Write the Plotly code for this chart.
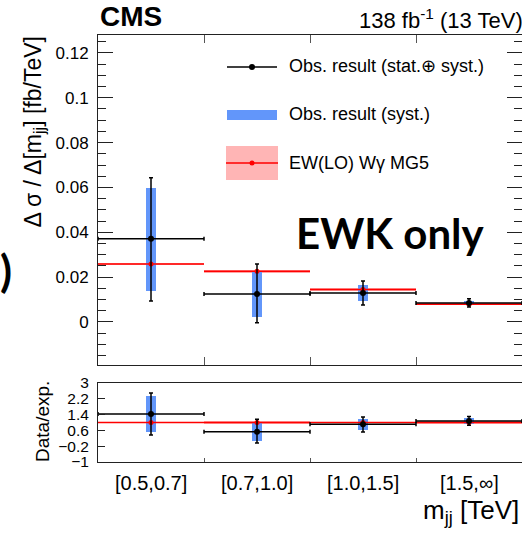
import plotly.graph_objects as go

# ---------------- data ----------------
bins = ["[0.5,0.7]", "[0.7,1.0]", "[1.0,1.5]", "[1.5,∞]"]
edges = [0, 1, 2, 3, 4]

obs = [0.0371, 0.0125, 0.0129, 0.0085]
obs_err_up = [0.0272, 0.0134, 0.0054, 0.0018]
obs_err_dn = [0.0277, 0.0129, 0.0053, 0.0018]
syst_hi = [0.0598, 0.0228, 0.0167, 0.0094]
syst_lo = [0.0138, 0.0022, 0.0092, 0.0076]

pred = [0.0259, 0.0226, 0.0145, 0.0079]
pred_err = [0.0003, 0.0007, 0.0006, 0.0005]

ratio = [1.43, 0.53, 0.91, 1.07]
ratio_err_up = [1.06, 0.64, 0.37, 0.24]
ratio_err_dn = [1.06, 0.57, 0.39, 0.21]
ratio_syst_hi = [2.34, 1.02, 1.17, 1.22]
ratio_syst_lo = [0.52, 0.07, 0.62, 0.92]
ratio_pred = [1.0, 1.0, 1.0, 1.0]
ratio_pred_err = [0.02, 0.06, 0.05, 0.10]

main_yticks = [0, 0.02, 0.04, 0.06, 0.08, 0.1, 0.12]
ratio_yticks = [-1, -0.2, 0.6, 1.4, 2.2, 3]

# ---------------- layout helpers ----------------
W, H = 522, 538
L, R, T, B = 98, 0, 35, 76
PW, PH = W - L - R, H - T - B


def px(x):
    return (x - L) / PW


def py(y):
    return (H - B - y) / PH


centers = [(edges[i] + edges[i + 1]) / 2 for i in range(len(bins))]
half = [(edges[i + 1] - edges[i]) / 2 for i in range(len(bins))]

BLUE = "rgb(98,150,250)"
RED = "rgb(255,0,0)"
BAND = "rgba(255,90,90,0.55)"
AX = "#222"
FONT = "Liberation Sans, Arial, sans-serif"

fig = go.Figure()


def add_panel(xa, ya, val, eu, ed, shi, slo, pv, pe):
    # prediction band
    fig.add_trace(go.Bar(x=centers, base=[p - e for p, e in zip(pv, pe)],
                         y=[2 * e for e in pe], width=[2 * h for h in half],
                         marker=dict(color=BAND, line=dict(width=0)),
                         xaxis=xa, yaxis=ya, showlegend=False, hoverinfo="skip"))
    # prediction lines
    lx, ly = [], []
    for i in range(len(bins)):
        lx += [edges[i], edges[i + 1], None]
        ly += [pv[i], pv[i], None]
    fig.add_trace(go.Scatter(x=lx, y=ly, mode="lines", line=dict(color=RED, width=1.5),
                             xaxis=xa, yaxis=ya, showlegend=False))
    fig.add_trace(go.Scatter(x=centers, y=pv, mode="markers",
                             marker=dict(color=RED, size=5),
                             xaxis=xa, yaxis=ya, showlegend=False))
    # systematic bars
    fig.add_trace(go.Bar(x=centers, base=slo, y=[h - l for h, l in zip(shi, slo)],
                         width=0.095, marker=dict(color=BLUE, line=dict(width=0)),
                         xaxis=xa, yaxis=ya, showlegend=False))
    # observed
    fig.add_trace(go.Scatter(x=centers, y=val, mode="markers",
                             marker=dict(color="black", size=6),
                             error_x=dict(type="data", array=half, symmetric=True,
                                          color="black", thickness=1.5, width=2),
                             error_y=dict(type="data", array=eu, arrayminus=ed,
                                          symmetric=False, color="black", thickness=1.5, width=2),
                             xaxis=xa, yaxis=ya, showlegend=False))


add_panel("x", "y", obs, obs_err_up, obs_err_dn, syst_hi, syst_lo, pred, pred_err)
add_panel("x2", "y2", ratio, ratio_err_up, ratio_err_dn, ratio_syst_hi, ratio_syst_lo,
          ratio_pred, ratio_pred_err)

main_bottom = py(365)
ratio_top = py(383)

fig.update_layout(
    width=W, height=H, margin=dict(l=L, r=R, t=T, b=B, autoexpand=False),
    paper_bgcolor="white", plot_bgcolor="white", barmode="overlay", bargap=0,
    font=dict(family=FONT, color="black", size=14),
    showlegend=False,
    xaxis=dict(domain=[0, 1], range=[edges[0], edges[-1]], anchor="y",
               tickmode="array", tickvals=edges[1:-1], ticks="inside", ticklen=8,
               tickcolor="#555", showticklabels=False, showgrid=False, zeroline=False,
               showline=True, linecolor=AX, linewidth=1, mirror="ticks"),
    yaxis=dict(domain=[main_bottom, 1], range=[-0.0192, 0.128], anchor="x",
               tickmode="array", tickvals=main_yticks,
               ticktext=[f"{v:g}" for v in main_yticks],
               ticks="inside", ticklen=15, tickcolor=AX,
               minor=dict(dtick=0.005, ticks="inside", ticklen=8, tickcolor=AX, showgrid=False),
               tickfont=dict(size=17), ticklabelstandoff=5,
               showgrid=False, zeroline=False,
               showline=True, linecolor=AX, linewidth=1, mirror="ticks"),
    xaxis2=dict(domain=[0, 1], range=[edges[0], edges[-1]], anchor="y2", matches="x",
                tickmode="array", tickvals=edges[1:-1], ticks="inside", ticklen=4,
                tickcolor="#555", showticklabels=False, showgrid=False, zeroline=False,
                showline=True, linecolor=AX, linewidth=1, mirror=True),
    yaxis2=dict(domain=[0, ratio_top], range=[-1, 3], anchor="x2",
                tickmode="array", tickvals=ratio_yticks,
                ticktext=[f"{v:g}".replace("-", "\u2212") for v in ratio_yticks],
                ticks="inside", ticklen=7, tickcolor=AX,
                tickfont=dict(size=15.5), ticklabelstandoff=5,
                showgrid=False, zeroline=False,
                showline=True, linecolor=AX, linewidth=1, mirror=True),
)

ann = []
# bin labels
for c, lab in zip(centers, bins):
    ann.append(dict(x=c, xref="x2", y=py(483), yref="paper", text=lab, showarrow=False,
                    font=dict(size=20), xanchor="center", yanchor="middle"))
ann += [
    dict(x=px(521), y=py(512), xref="paper", yref="paper", text="m<sub>jj</sub> [TeV]",
         showarrow=False, font=dict(size=26), xanchor="right", yanchor="middle"),
    dict(x=px(98), y=py(17), xref="paper", yref="paper", text="<b>CMS</b>",
         showarrow=False, font=dict(size=28), xanchor="left", yanchor="middle"),
    dict(x=px(525), y=py(19), xref="paper", yref="paper",
         text="138 fb<sup>-1</sup> (13 TeV)", showarrow=False, font=dict(size=22),
         xanchor="right", yanchor="middle"),
    dict(x=px(34), y=py(35), xref="paper", yref="paper",
         text="Δ σ / Δ[m<sub>jj</sub>] [fb/TeV]", textangle=-90, showarrow=False,
         font=dict(size=23), xanchor="center", yanchor="top"),
    dict(x=px(42), y=py(422), xref="paper", yref="paper", text="Data/exp.",
         textangle=-90, showarrow=False, font=dict(size=19),
         xanchor="center", yanchor="middle"),
    dict(x=px(294), y=py(233), xref="paper", yref="paper", text="<b>EWK only</b>",
         showarrow=False, font=dict(family="Lato, sans-serif", size=42),
         xanchor="left", yanchor="middle"),
    dict(x=px(14), y=py(270), xref="paper", yref="paper", text="<b>)</b>",
         showarrow=False, font=dict(family="Lato, sans-serif", size=44),
         xanchor="right", yanchor="middle"),
    dict(x=px(287), y=py(66), xref="paper", yref="paper",
         text="Obs. result (stat.⊕ syst.)", showarrow=False, font=dict(size=18),
         xanchor="left", yanchor="middle"),
    dict(x=px(287), y=py(114), xref="paper", yref="paper",
         text="Obs. result (syst.)", showarrow=False, font=dict(size=18),
         xanchor="left", yanchor="middle"),
    dict(x=px(287), y=py(163), xref="paper", yref="paper",
         text="EW(LO) Wγ MG5", showarrow=False, font=dict(size=18),
         xanchor="left", yanchor="middle"),
]
fig.update_layout(annotations=ann)

# legend samples (decorative, paper coordinates)
shapes = [
    dict(type="line", xref="paper", yref="paper", x0=px(227), x1=px(277),
         y0=py(67), y1=py(67), line=dict(color="black", width=1.5)),
    dict(type="circle", xref="paper", yref="paper", x0=px(249), x1=px(255),
         y0=py(70), y1=py(64), fillcolor="black", line=dict(width=0)),
    dict(type="rect", xref="paper", yref="paper", x0=px(227), x1=px(277),
         y0=py(120), y1=py(110), fillcolor=BLUE, line=dict(width=0)),
    dict(type="rect", xref="paper", yref="paper", x0=px(226), x1=px(278),
         y0=py(180), y1=py(146), fillcolor="rgba(255,150,150,0.7)", line=dict(width=0)),
    dict(type="line", xref="paper", yref="paper", x0=px(226), x1=px(278),
         y0=py(163), y1=py(163), line=dict(color=RED, width=1.5)),
    dict(type="circle", xref="paper", yref="paper", x0=px(249.5), x1=px(254.5),
         y0=py(165.5), y1=py(160.5), fillcolor=RED, line=dict(width=0)),
]
fig.update_layout(shapes=shapes)

fig.write_html("out.html")
